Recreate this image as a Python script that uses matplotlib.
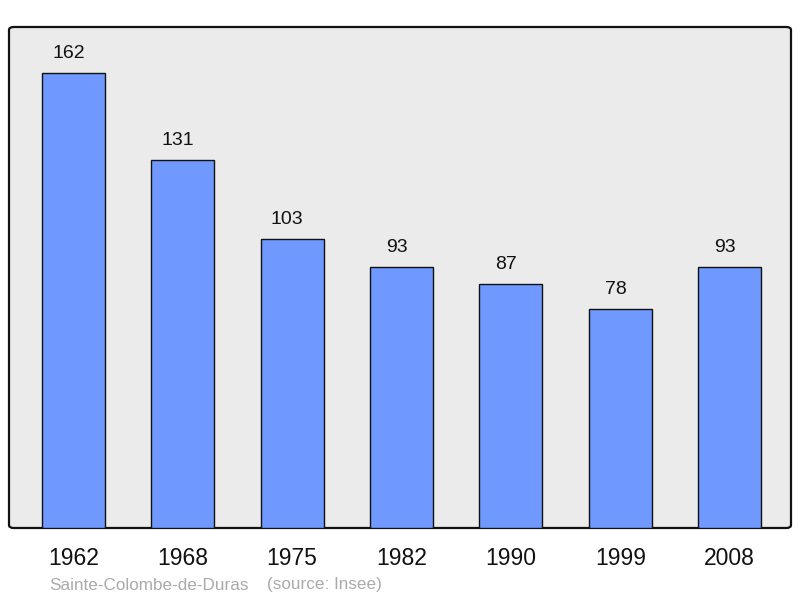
import matplotlib.pyplot as plt
from matplotlib.patches import FancyBboxPatch

years = ["1962", "1968", "1975", "1982", "1990", "1999", "2008"]
population = [162, 131, 103, 93, 87, 78, 93]
commune = "Sainte-Colombe-de-Duras"
source = "(source: Insee)"

plt.rcParams["font.family"] = ["Liberation Sans", "DejaVu Sans"]

fig = plt.figure(figsize=(8, 5.98), dpi=100)
ax = fig.add_axes([9 / 800, 1 - 528 / 598, 782 / 800, 501 / 598])
ax.set_facecolor("none")

frame = FancyBboxPatch((0, 0), 1, 1, boxstyle="round,pad=0,rounding_size=0.006",
                       transform=ax.transAxes, facecolor="#ebebeb",
                       edgecolor="#111111", linewidth=1.6, zorder=0, clip_on=False)
ax.add_patch(frame)

x = range(len(years))
ax.bar(x, population, width=0.575, color="#7099ff",
       edgecolor="#111111", linewidth=1.0, zorder=2)
for xi, v in zip(x, population):
    ax.annotate(str(v), (xi, v), xytext=(-3.5, 7.5), textcoords="offset points",
                ha="center", va="bottom", fontsize=14, color="#111111")

ax.set_xlim(-0.588, 6.56)
ax.set_ylim(0, 178.3)
ax.set_xticks(list(x))
ax.set_xticklabels(years, fontsize=16.5, color="#111111")
ax.tick_params(axis="x", length=0, pad=14)
ax.set_yticks([])
for s in ax.spines.values():
    s.set_visible(False)

fig.text(49 / 800, 1 - 585 / 598, commune, fontsize=12.3, color="#aaaaaa",
         ha="left", va="center")
fig.text(267 / 800, 1 - 585 / 598, source, fontsize=12.3, color="#aaaaaa",
         ha="left", va="center")

fig.savefig("out.png", dpi=100)
